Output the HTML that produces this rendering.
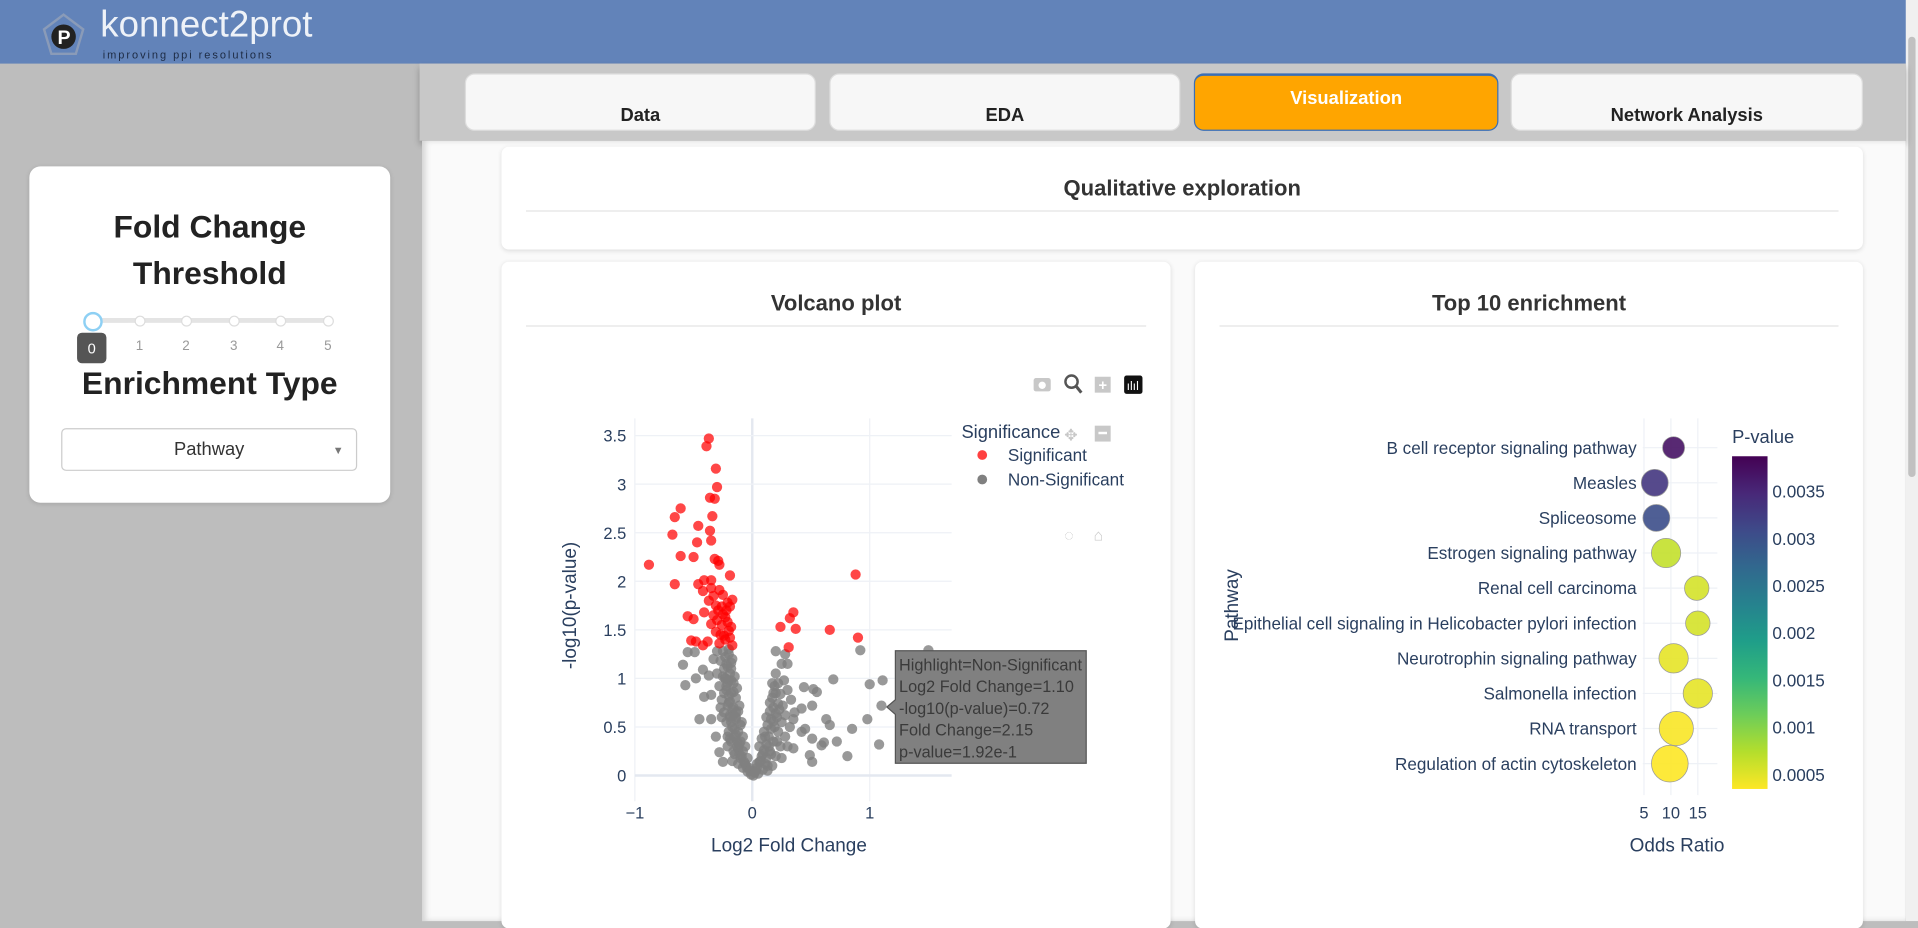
<!DOCTYPE html>
<html><head><meta charset="utf-8"><style>
html,body{margin:0;padding:0;width:1918px;height:921px;overflow:hidden;background:#bdbdbd;font-family:"Liberation Sans",sans-serif}
#frame{position:absolute;left:0;top:0;width:1568px;height:753px;transform:scale(1.22321);transform-origin:0 0;background:#bdbdbd}
.abs{position:absolute}
.card{position:absolute;background:#fff;border-radius:6px;box-shadow:0 1px 4px rgba(0,0,0,.12)}
.tab{position:absolute;top:60px;height:47px;background:#f7f7f7;border-radius:8px;border:1px solid #ddd;box-sizing:border-box;text-align:center;font-weight:bold;font-size:15px;color:#222}
.title{position:absolute;left:0;right:0;text-align:center;font-weight:bold;font-size:18px;color:#333}
.hr{position:absolute;height:1px;background:#e3e3e3}
</style></head><body>
<div id="frame">
  <div class="abs" style="left:0;top:0;width:1568px;height:52px;background:#6283b9"></div>
  <div class="abs" style="left:30px;top:6px;width:240px;height:44px">
    <svg width="44" height="44" style="position:absolute;left:0;top:0"><polygon points="22,6 38,18 32,38 12,38 6,18" fill="none" stroke="#8a9bb8" stroke-width="2"/><circle cx="22" cy="24" r="10" fill="#222"/><text x="17" y="30" font-size="16" font-weight="bold" fill="#fff" font-family="Liberation Sans">P</text></svg>
    <div class="abs" style="left:52px;top:-2px;font-size:30px;color:#eef2f8;letter-spacing:0px">konnect2prot</div>
    <div class="abs" style="left:54px;top:34px;font-size:9px;color:#1d2b44;letter-spacing:1.6px">improving ppi resolutions</div>
  </div>
  <div class="abs" style="left:1558px;top:0;width:10px;height:753px;background:#f0f0f0"><div style="margin:30px 2px;width:6px;height:360px;background:#c1c1c1;border-radius:3px"></div></div>
  <div class="abs" style="left:343px;top:52px;width:1215px;height:63px;background:#c8c8c8;box-shadow:0 3px 5px rgba(0,0,0,.25)"></div>
  <div class="abs" style="left:345px;top:115px;width:1213px;height:638px;background:#fafafa;box-shadow:inset 3px 0 5px rgba(0,0,0,.15)"></div>
  <div class="tab" style="left:380px;width:287px;padding-top:25px">Data</div>
  <div class="tab" style="left:678px;width:287px;padding-top:25px">EDA</div>
  <div class="tab" style="left:976px;width:249px;background:#ffa500;border-color:#3b6fb5;border-top:2px solid #3b6fb5;color:#fff;padding-top:10px">Visualization</div>
  <div class="tab" style="left:1235px;width:288px;padding-top:25px">Network Analysis</div>

  <div class="card" style="left:24px;top:136px;width:295px;height:275px;border-radius:9px">
    <div class="abs" style="left:0;right:0;top:30px;text-align:center;font-weight:bold;font-size:26px;line-height:38px;color:#222">Fold Change<br>Threshold</div>
    <div class="abs" style="left:51px;top:124px;width:193px;height:4px;background:#e4e4e4;border-radius:2px"></div>
    <div class="abs" style="left:86px;top:122px;width:7px;height:7px;border-radius:50%;background:#fff;border:1px solid #ddd"></div>
    <div class="abs" style="left:124px;top:122px;width:7px;height:7px;border-radius:50%;background:#fff;border:1px solid #ddd"></div>
    <div class="abs" style="left:163px;top:122px;width:7px;height:7px;border-radius:50%;background:#fff;border:1px solid #ddd"></div>
    <div class="abs" style="left:201px;top:122px;width:7px;height:7px;border-radius:50%;background:#fff;border:1px solid #ddd"></div>
    <div class="abs" style="left:240px;top:122px;width:7px;height:7px;border-radius:50%;background:#fff;border:1px solid #ddd"></div>
    <div class="abs" style="left:44px;top:119px;width:12px;height:12px;border-radius:50%;background:#fff;border:2px solid #8ed0f4"></div>
    <div class="abs" style="left:39px;top:136px;width:24px;height:25px;background:#555;border-radius:4px;color:#fff;font-size:12px;text-align:center;line-height:26px">0</div>
    <div class="abs" style="top:141px;left:87px;font-size:11px;color:#999">1</div>
    <div class="abs" style="top:141px;left:125px;font-size:11px;color:#999">2</div>
    <div class="abs" style="top:141px;left:164px;font-size:11px;color:#999">3</div>
    <div class="abs" style="top:141px;left:202px;font-size:11px;color:#999">4</div>
    <div class="abs" style="top:141px;left:241px;font-size:11px;color:#999">5</div>
    <div class="abs" style="left:0;right:0;top:162px;text-align:center;font-weight:bold;font-size:26px;color:#222">Enrichment Type</div>
    <div class="abs" style="left:26px;top:214px;width:242px;height:35px;border:1px solid #ccc;border-radius:4px;box-sizing:border-box;text-align:center;line-height:34px;font-size:15px;color:#333">Pathway<span style="position:absolute;right:10px;top:0;font-size:9px;color:#777">&#9660;</span></div>
  </div>

  <div class="card" style="left:410px;top:120px;width:1113px;height:84px">
    <div class="title" style="top:24px">Qualitative exploration</div>
    <div class="hr" style="left:20px;right:20px;top:52px"></div>
  </div>
  <div class="card" style="left:410px;top:214px;width:547px;height:545px">
    <div class="title" style="top:24px">Volcano plot</div>
    <div class="hr" style="left:20px;right:20px;top:52px"></div>
  </div>
  <div class="card" style="left:977px;top:214px;width:546px;height:545px">
    <div class="title" style="top:24px">Top 10 enrichment</div>
    <div class="hr" style="left:20px;right:20px;top:52px"></div>
  </div>

  <svg id="vol" class="abs" width="1568" height="753" style="left:0;top:0" font-family="Liberation Sans"></svg>
  <svg id="enr" class="abs" width="1568" height="753" style="left:0;top:0;pointer-events:none" font-family="Liberation Sans"></svg>
</div>
<script>
const NS='http://www.w3.org/2000/svg';
function mk(p,t,a,txt){const e=document.createElementNS(NS,t);for(const k in a)e.setAttribute(k,a[k]);if(txt!==undefined)e.textContent=txt;p.appendChild(e);return e;}
// ---------- Volcano data ----------
const sigX=[-0.37,-0.39,-0.31,-0.30,-0.36,-0.32,-0.61,-0.66,-0.34,-0.46,-0.68,-0.36,-0.35,-0.47,-0.61,-0.50,-0.32,-0.29,-0.28,-0.88,-0.19,-0.66,-0.41,-0.35,-0.46,-0.35,-0.42,-0.28,-0.25,-0.17,-0.37,-0.31,-0.26,-0.19,-0.41,-0.33,-0.23,-0.55,-0.50,-0.35,-0.26,-0.18,-0.31,-0.24,-0.19,-0.52,-0.48,-0.38,-0.42,-0.28,-0.17,-0.30,-0.22,-0.27,-0.21,-0.25,-0.20,-0.33,-0.29,-0.23,-0.21,0.24,0.32,0.35,0.37,0.31,0.66,0.88,0.90];
const sigY=[3.47,3.39,3.16,2.97,2.86,2.85,2.75,2.66,2.67,2.57,2.48,2.52,2.42,2.40,2.26,2.25,2.23,2.21,2.17,2.17,2.06,1.97,2.01,2.01,1.97,1.93,1.90,1.91,1.86,1.81,1.80,1.75,1.74,1.74,1.68,1.65,1.63,1.64,1.61,1.56,1.55,1.53,1.48,1.44,1.42,1.39,1.38,1.38,1.34,1.36,1.34,1.60,1.70,1.45,1.58,1.66,1.49,1.85,1.70,1.40,1.78,1.53,1.62,1.68,1.51,1.32,1.50,2.07,1.42];
const nsX=[0.92,1.50,1.00,1.11,1.10,0.98,0.85,1.08,0.81,0.69,0.72,0.63,0.66,0.52,0.55,0.44,0.42,0.51,0.45,0.51,0.49,0.51,0.35,0.61,0.59,0.42,-0.59,-0.57,-0.48,-0.42,-0.45,-0.41,-0.55,-0.49,-0.35,-0.31,-0.25,-0.28,-0.37,-0.35,
-0.30,-0.25,-0.20,-0.33,-0.27,-0.22,-0.18,-0.30,-0.25,-0.20,-0.16,-0.28,-0.22,-0.18,-0.14,-0.26,-0.20,-0.16,-0.12,-0.24,-0.19,-0.14,-0.10,-0.22,-0.17,-0.12,-0.08,-0.20,-0.15,-0.10,-0.06,-0.18,-0.13,-0.08,-0.04,-0.15,-0.10,-0.06,-0.03,-0.12,-0.08,-0.04,-0.01,-0.23,-0.17,-0.24,-0.15,-0.21,-0.24,-0.11,-0.27,-0.26,-0.21,-0.17,-0.09,-0.13,
-0.21,-0.19,-0.18,-0.22,-0.20,-0.19,-0.17,-0.16,-0.21,-0.18,-0.15,-0.14,-0.19,-0.13,-0.12,-0.11,-0.09,-0.07,-0.05,-0.02,-0.20,-0.23,-0.18,-0.16,-0.14,-0.11,
0.02,0.04,0.06,0.08,0.10,0.12,0.14,0.16,0.18,0.20,0.22,0.24,0.22,0.20,0.25,0.20,0.28,0.30,0.27,0.30,0.15,0.18,0.22,0.25,0.28,0.12,0.16,0.20,0.24,0.28,0.32,0.35,0.10,0.12,0.15,0.18,0.06,0.08,0.26,0.33,0.36,0.30,0.25,0.05,0.09,-0.19,-0.21,-0.23,-0.16,-0.14,0.19,0.21,0.17,0.13,
0.11,0.13,0.15,0.17,0.19,0.14,0.16,0.18,0.20,0.09,0.07,0.11,0.13,0.23,0.21,0.17,0.03,0.01,0.04];
const nsY=[1.29,1.29,0.94,0.98,0.72,0.58,0.48,0.32,0.20,0.99,0.35,0.58,0.52,0.89,0.86,0.91,0.69,0.72,0.48,0.38,0.21,0.14,0.28,0.34,0.31,0.45,1.14,0.93,1.00,1.09,0.58,0.81,1.27,1.27,0.58,0.40,0.14,0.24,1.03,0.83,
1.28,1.28,1.25,1.20,1.18,1.15,1.10,1.05,1.02,0.98,0.95,0.92,0.88,0.85,0.80,0.78,0.75,0.70,0.66,0.65,0.62,0.58,0.52,0.55,0.50,0.45,0.40,0.45,0.40,0.35,0.30,0.35,0.30,0.25,0.18,0.22,0.18,0.12,0.08,0.12,0.08,0.04,0.01,1.22,1.20,1.10,1.02,0.95,0.85,0.72,0.70,0.60,0.30,0.15,0.55,0.90,
1.12,1.05,0.98,0.92,0.82,0.76,0.68,0.62,0.72,0.55,0.48,0.42,0.38,0.35,0.28,0.22,0.20,0.14,0.09,0.05,1.30,1.00,1.16,0.86,0.60,0.32,
0.03,0.08,0.14,0.20,0.26,0.32,0.40,0.48,0.56,0.64,0.74,0.84,0.95,1.05,1.15,1.28,1.25,1.15,0.98,0.88,0.25,0.35,0.45,0.55,0.62,0.18,0.22,0.20,0.30,0.40,0.50,0.58,0.45,0.60,0.75,0.85,0.30,0.38,0.72,0.78,0.65,0.30,0.18,0.02,0.06,0.60,0.40,1.00,0.25,0.65,0.50,0.35,0.10,0.05,
0.40,0.52,0.66,0.80,0.92,0.30,0.58,0.70,0.85,0.22,0.15,0.12,0.10,0.68,0.60,0.95,0.05,0.00,0.12];
const xTicks=[-1,0,1];
const yTicks=[0,0.5,1,1.5,2,2.5,3,3.5];
const yTickLabels=['0','0.5','1','1.5','2','2.5','3','3.5'];
const vx=v=>615+v*96, vy=v=>634-v*79.4;
const V=document.getElementById('vol');
xTicks.forEach(t=>{const l=mk(V,'line',{x1:vx(t),x2:vx(t),y1:342,y2:655,stroke:t===0?'#e4e8f0':'#eef1f6','stroke-width':t===0?2:1});


const tx=mk(V,'text',{x:vx(t),y:669,'text-anchor':'middle','font-size':13.5,fill:'#2a3f5f'},t<0?'\u22121':String(t));

});
yTicks.forEach((t,i)=>{const l=mk(V,'line',{x1:519,x2:778,y1:vy(t),y2:vy(t),stroke:t===0?'#e4e8f0':'#eef1f6','stroke-width':t===0?2:1});


const tx=mk(V,'text',{x:512,y:vy(t)+5,'text-anchor':'end','font-size':13.5,fill:'#2a3f5f'},yTickLabels[i]);

});
nsX.forEach((x,i)=>{const c=mk(V,'circle',{cx:vx(x),cy:vy(nsY[i]),r:4.2,fill:'#808080','fill-opacity':0.8});

});
sigX.forEach((x,i)=>{const c=mk(V,'circle',{cx:vx(x),cy:vy(sigY[i]),r:4.2,fill:'#ff0000','fill-opacity':0.72});

});
let t=mk(V,'text',{x:0,y:0,'font-size':15.5,fill:'#2a3f5f',transform:'translate(471,495) rotate(-90)','text-anchor':'middle'},'-log10(p-value)');


t=mk(V,'text',{x:645,y:696,'font-size':15.5,fill:'#2a3f5f','text-anchor':'middle'},'Log2 Fold Change');


// legend
t=mk(V,'text',{x:786,y:358,'font-size':15,fill:'#2a3f5f'},'Significance');


let g=mk(V,'g',{});


mk(g,'circle',{cx:803,cy:372,r:4,fill:'#ff0000','fill-opacity':0.75});mk(g,'text',{x:824,y:377,'font-size':14,fill:'#2a3f5f'},'Significant');
g=mk(V,'g',{});


mk(g,'circle',{cx:803,cy:392,r:4,fill:'#808080'});mk(g,'text',{x:824,y:397,'font-size':14,fill:'#2a3f5f'},'Non-Significant');
// modebar
g=mk(V,'g',{});


mk(g,'rect',{x:845,y:309,width:14,height:11,rx:2,fill:'#c8c8c8'});mk(g,'circle',{cx:852,cy:315,r:3,fill:'#fff'});
mk(g,'circle',{cx:876,cy:312,r:5,fill:'none',stroke:'#555','stroke-width':2});mk(g,'line',{x1:880,y1:316,x2:884,y2:321,stroke:'#555','stroke-width':2.5});
mk(g,'rect',{x:895,y:308,width:13,height:13,fill:'#c8c8c8'});mk(g,'text',{x:898,y:319,'font-size':12,fill:'#fff','font-weight':'bold'},'+');
mk(g,'rect',{x:919,y:307,width:15,height:15,rx:2,fill:'#111'});mk(g,'text',{x:921,y:319,'font-size':10,fill:'#fff'},'ılıl');
mk(g,'rect',{x:895,y:348,width:13,height:13,fill:'#c8c8c8'});mk(g,'rect',{x:898,y:353,width:7,height:2,fill:'#fff'});
mk(g,'text',{x:870,y:360,'font-size':13,fill:'#c8c8c8'},'✥');
mk(g,'text',{x:870,y:442,'font-size':13,fill:'#c8c8c8'},'◌');mk(g,'text',{x:894,y:442,'font-size':13,fill:'#c8c8c8'},'⌂');
// tooltip
g=mk(V,'g',{});


mk(g,'path',{d:'M732,532 H888 V624 H732 V584 L725,578 L732,572 Z',fill:'#808080',stroke:'#555'});
['Highlight=Non-Significant','Log2 Fold Change=1.10','-log10(p-value)=0.72','Fold Change=2.15','p-value=1.92e-1'].forEach((s,i)=>mk(g,'text',{x:735,y:548+i*17.8,'font-size':13.3,fill:'#3a3a3a'},s));

// ---------- Enrichment data ----------
const pathways=['B cell receptor signaling pathway','Measles','Spliceosome','Estrogen signaling pathway','Renal cell carcinoma','Epithelial cell signaling in Helicobacter pylori infection','Neurotrophin signaling pathway','Salmonella infection','RNA transport','Regulation of actin cytoskeleton'];
const oddsRatio=[10.5,7.0,7.3,9.1,14.8,15.0,10.5,15.0,11.0,9.8];
const pValues=[0.0037,0.0033,0.0030,0.0005,0.0004,0.0004,0.0003,0.0003,0.0002,0.00017];
const geneCounts=[9,11,11,12,10,10,12,12,14,15];
const orTicks=[5,10,15];
const cbTicks=[0.0035,0.003,0.0025,0.002,0.0015,0.001,0.0005];
const cbTickLabels=['0.0035','0.003','0.0025','0.002','0.0015','0.001','0.0005'];
const ex=v=>1344+(v-5)*4.4, ey=i=>366+i*28.7;
const cbY=p=>672-p/0.0005*38.6;
const vir=[[68,1,84],[72,40,120],[62,74,137],[49,104,142],[38,130,142],[31,158,137],[53,183,121],[109,205,89],[180,222,44],[253,231,37]];
const pMin=0.00017,pMax=0.00388;
function col(p){let t=1-(p-pMin)/(pMax-pMin);t=Math.max(0,Math.min(1,t))*9;const i=Math.min(8,Math.floor(t)),f=t-i;const a=vir[i],b=vir[i+1];return 'rgb('+a.map((v,k)=>Math.round(v+(b[k]-v)*f)).join(',')+')';}
const E=document.getElementById('enr');
orTicks.forEach(v=>{const l=mk(E,'line',{x1:ex(v),x2:ex(v),y1:342,y2:650,stroke:'#eef1f6'});


const tx=mk(E,'text',{x:ex(v),y:669,'text-anchor':'middle','font-size':13.5,fill:'#2a3f5f'},String(v));

});
pathways.forEach((p,i)=>{const l=mk(E,'line',{x1:1343,x2:1404,y1:ey(i),y2:ey(i),stroke:'#eef1f6'});


const tx=mk(E,'text',{x:1338,y:ey(i)+5,'text-anchor':'end','font-size':14,fill:'#2a3f5f'},p);

});
pathways.forEach((p,i)=>{const c=mk(E,'circle',{cx:ex(oddsRatio[i]),cy:ey(i),r:geneCounts[i],fill:col(pValues[i]),stroke:'#999','stroke-width':0.6,'fill-opacity':0.9});

});
t=mk(E,'text',{x:0,y:0,'font-size':15.5,fill:'#2a3f5f',transform:'translate(1012,495) rotate(-90)','text-anchor':'middle'},'Pathway');


t=mk(E,'text',{x:1371,y:696,'font-size':15.5,fill:'#2a3f5f','text-anchor':'middle'},'Odds Ratio');


const defs=mk(E,'defs',{});const lg=mk(defs,'linearGradient',{id:'vg',x1:0,y1:1,x2:0,y2:0});
vir.slice().reverse().forEach((c,i)=>mk(lg,'stop',{offset:(i/9),'stop-color':'rgb('+c.join(',')+')'}));
const cb=mk(E,'rect',{x:1416,y:373,width:29,height:272,fill:'url(#vg)'});


cbTicks.forEach((v,i)=>{const tx=mk(E,'text',{x:1449,y:cbY(v)+5,'font-size':14,fill:'#2a3f5f'},cbTickLabels[i]);

});
t=mk(E,'text',{x:1416,y:362,'font-size':15,fill:'#2a3f5f'},'P-value');


</script>
</body></html>
